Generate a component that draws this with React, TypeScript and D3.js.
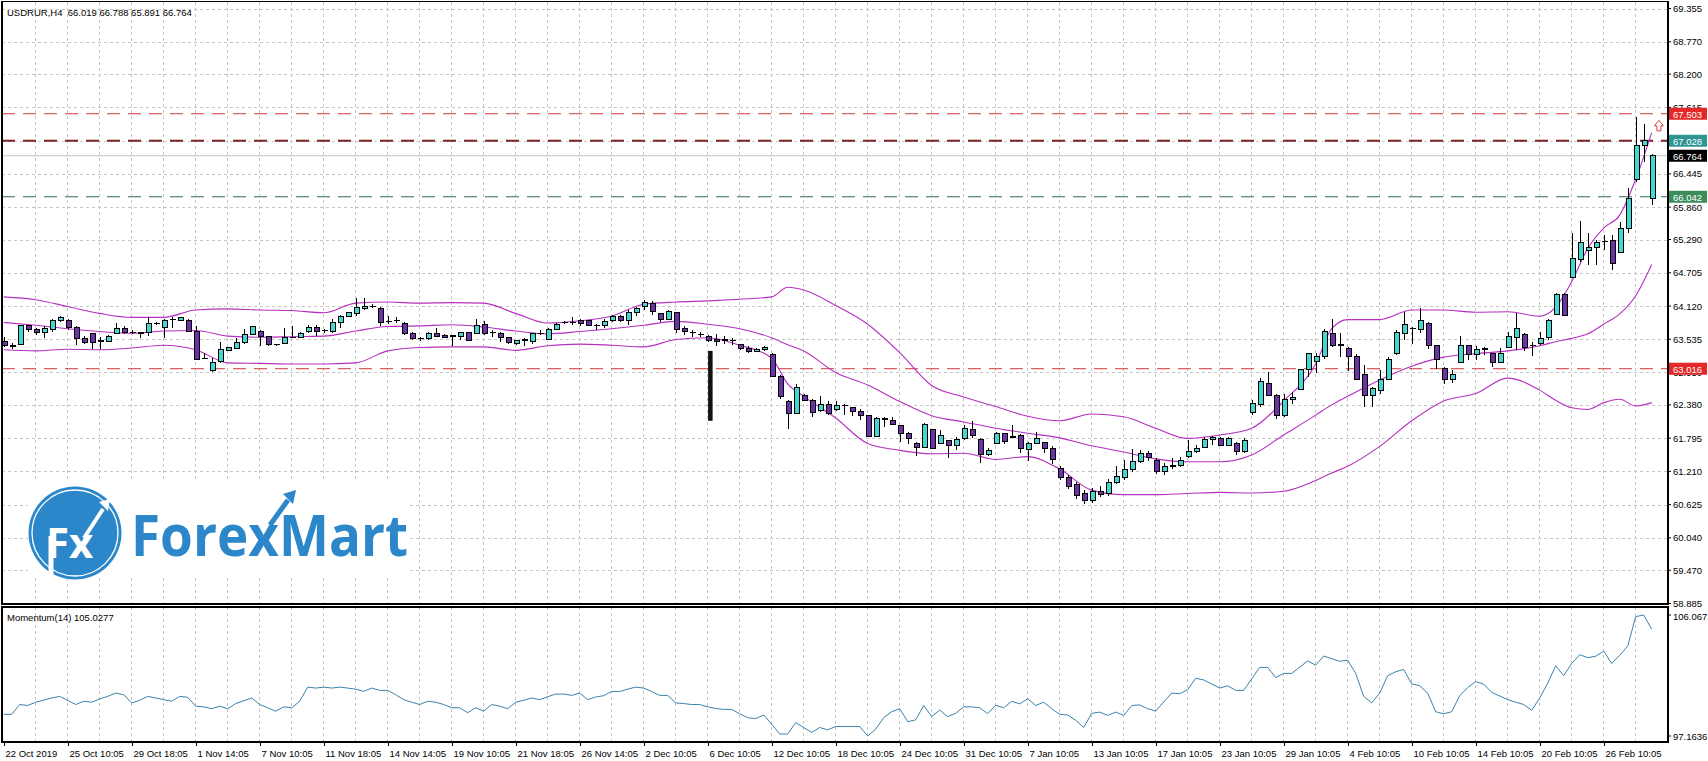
import React from "react";
import * as d3 from "d3";

// ---------- DATA ----------
const symbolTitle = "USDRUR,H4  66.019 66.788 65.891 66.764";
const momentumTitle = "Momentum(14) 105.0277";

const openP = [
  63.49,63.43,63.45,63.77,63.70,63.66,63.70,63.86,63.87,63.74,
  63.55,63.63,63.50,63.50,63.64,63.73,63.652,63.646,63.65,63.815,
  63.74,63.886,63.87,63.87,63.68,63.199,62.98,63.14,63.33,63.38,
  63.48,63.62,63.68,63.58,63.442,63.46,63.570,63.57,63.67,63.74,
  63.686,63.67,63.83,63.94,63.99,64.07,64.110,64.08,63.846,63.869,
  63.81,63.64,63.546,63.54,63.64,63.60,63.593,63.58,63.66,63.64,
  63.79,63.651,63.64,63.57,63.46,63.523,63.50,63.640,63.53,63.70,
  63.828,63.827,63.86,63.86,63.780,63.77,63.86,63.94,63.87,64.00,
  64.12,64.17,63.99,63.89,64.01,63.72,63.652,63.616,63.59,63.53,
  63.523,63.517,63.44,63.38,63.32,63.36,63.27,62.88,62.44,62.23,
  62.54,62.46,62.28,62.38,62.30,62.367,62.34,62.26,62.19,61.82,
  62.133,62.10,62.01,61.87,61.70,61.63,61.94,61.70,61.75,61.66,
  61.79,61.95,61.77,61.50,61.70,61.87,61.81,61.85,61.60,61.70,
  61.72,61.62,61.26,61.10,60.98,60.82,60.70,60.86,60.82,61.02,
  61.10,61.24,61.38,61.53,61.41,61.20,61.32,61.31,61.48,61.56,
  61.63,61.77,61.79,61.67,61.70,61.56,62.24,62.38,62.76,62.55,
  62.20,62.48,62.65,63.01,63.14,63.23,63.64,63.435,63.38,63.24,
  62.92,62.55,62.64,62.83,63.28,63.64,63.722,63.70,63.82,63.42,
  63.02,62.83,63.12,63.42,63.26,63.359,63.28,63.12,63.39,63.57,
  63.62,63.423,63.46,63.57,63.97,64.33,64.62,64.93,65.09,65.15,
  65.253,65.27,65.06,65.49,66.34,66.95,66.019
];
const highP = [
  63.58,63.47,63.78,63.79,63.73,63.76,63.90,63.94,63.89,63.76,
  63.59,63.65,63.57,63.61,63.82,63.76,63.70,63.66,63.93,63.83,
  63.90,63.92,63.93,63.89,63.76,63.29,63.20,63.49,63.40,63.55,
  63.71,63.77,63.70,63.59,63.46,63.73,63.77,63.67,63.79,63.79,
  63.71,63.89,63.96,64.02,64.26,64.26,64.16,64.10,63.94,63.92,
  63.83,63.67,63.57,63.67,63.74,63.62,63.61,63.67,63.67,63.90,
  63.86,63.69,63.66,63.58,63.53,63.55,63.65,63.70,63.73,63.82,
  63.85,63.92,63.89,63.86,63.80,63.89,63.96,63.96,64.05,64.11,
  64.23,64.20,64.00,64.05,64.02,63.76,63.70,63.67,63.61,63.63,
  63.59,63.55,63.46,63.42,63.38,63.42,63.29,62.91,62.47,62.74,
  62.58,62.48,62.53,62.44,62.44,62.39,62.35,62.30,62.20,62.16,
  62.17,62.17,62.03,61.91,61.72,62.06,61.95,61.93,61.76,61.82,
  62.03,62.09,61.79,61.62,61.91,61.89,62.03,61.87,61.72,61.91,
  61.73,61.65,61.30,61.14,61.02,60.88,60.92,60.95,61.08,61.30,
  61.41,61.60,61.58,61.56,61.44,61.35,61.44,61.47,61.76,61.67,
  61.82,61.83,61.82,61.82,61.72,61.79,62.47,62.85,62.95,62.57,
  62.58,62.61,63.02,63.29,63.29,63.71,63.90,63.64,63.39,63.28,
  63.08,62.70,62.99,63.23,63.69,64.02,63.75,64.08,63.83,63.43,
  63.04,62.99,63.59,63.43,63.42,63.40,63.29,63.38,63.67,64.00,
  63.64,63.49,63.67,63.90,64.35,64.35,65.40,65.62,65.40,65.28,
  65.37,65.37,65.60,66.19,67.44,67.32,66.788
];
const lowP = [
  63.40,63.36,63.44,63.66,63.61,63.55,63.67,63.84,63.70,63.43,
  63.45,63.36,63.36,63.49,63.63,63.63,63.63,63.55,63.59,63.79,
  63.55,63.73,63.86,63.66,63.17,63.18,62.96,63.12,63.32,63.36,
  63.46,63.61,63.42,63.42,63.42,63.45,63.55,63.55,63.64,63.59,
  63.65,63.65,63.73,63.92,63.94,64.05,64.08,63.77,63.80,63.82,
  63.61,63.52,63.51,63.52,63.57,63.55,63.42,63.52,63.50,63.63,
  63.61,63.57,63.48,63.45,63.43,63.42,63.45,63.61,63.52,63.69,
  63.80,63.79,63.77,63.77,63.70,63.73,63.84,63.84,63.79,63.94,
  64.05,63.96,63.84,63.89,63.65,63.61,63.58,63.57,63.49,63.42,
  63.46,63.43,63.35,63.29,63.31,63.32,62.87,62.48,61.95,62.22,
  62.44,62.16,62.26,62.20,62.28,62.20,62.19,62.12,61.81,61.81,
  61.99,62.02,61.73,61.69,61.48,61.62,61.60,61.69,61.44,61.59,
  61.77,61.79,61.36,61.48,61.69,61.70,61.79,61.53,61.40,61.69,
  61.54,61.34,61.05,60.90,60.72,60.64,60.66,60.76,60.78,60.98,
  61.06,61.20,61.36,61.40,61.16,61.15,61.26,61.28,61.45,61.54,
  61.62,61.67,61.65,61.65,61.50,61.54,62.20,62.35,62.53,62.14,
  62.16,62.40,62.64,62.87,62.94,63.18,63.39,63.22,62.98,62.82,
  62.35,62.34,62.58,62.81,63.26,63.52,63.46,63.64,63.36,63.02,
  62.75,62.76,63.11,63.17,63.17,63.26,63.04,63.11,63.38,63.35,
  63.33,63.24,63.43,63.52,63.96,63.94,64.61,64.90,64.84,64.84,
  65.11,64.75,65.05,65.40,66.31,66.66,65.891
];
const closeP = [
  63.43,63.42,63.77,63.70,63.65,63.72,63.87,63.92,63.74,63.55,
  63.48,63.48,63.498,63.59,63.73,63.66,63.650,63.644,63.82,63.812,
  63.87,63.884,63.92,63.68,63.18,63.196,63.12,63.35,63.39,63.48,
  63.62,63.76,63.59,63.45,63.440,63.57,63.568,63.64,63.74,63.67,
  63.684,63.83,63.94,64.01,64.09,64.12,64.108,63.83,63.844,63.867,
  63.64,63.54,63.544,63.64,63.59,63.56,63.590,63.66,63.52,63.77,
  63.63,63.649,63.57,63.48,63.52,63.521,63.63,63.638,63.70,63.80,
  63.826,63.825,63.82,63.77,63.778,63.84,63.94,63.86,64.01,64.07,
  64.18,64.02,63.89,64.03,63.70,63.67,63.650,63.614,63.52,63.49,
  63.521,63.515,63.37,63.32,63.36,63.39,62.88,62.53,62.23,62.69,
  62.46,62.24,62.39,62.23,62.37,62.365,62.26,62.19,61.82,62.14,
  62.131,62.04,61.87,61.78,61.63,62.03,61.62,61.85,61.66,61.77,
  61.97,61.85,61.50,61.58,61.87,61.73,61.83,61.62,61.70,61.79,
  61.62,61.42,61.10,60.95,60.78,60.70,60.86,60.80,61.02,61.12,
  61.24,61.38,61.53,61.45,61.20,61.30,61.31,61.40,61.56,61.62,
  61.77,61.80,61.67,61.79,61.56,61.76,62.40,62.80,62.55,62.20,
  62.47,62.51,63.01,63.28,63.24,63.67,63.42,63.432,63.23,62.83,
  62.55,62.67,62.83,63.18,63.65,63.80,63.720,63.86,63.42,63.17,
  62.83,62.92,63.42,63.26,63.36,63.357,63.12,63.29,63.59,63.73,
  63.39,63.421,63.55,63.87,64.33,63.96,64.96,65.24,65.15,65.24,
  65.251,64.87,65.49,66.02,66.95,67.03,66.764
];

const bbIdx = [0,4,8,12,16,20,24,28,32,36,40,44,48,52,56,60,64,68,72,76,80,84,88,92,96,98,100,104,108,112,116,120,124,128,132,136,140,144,148,152,156,160,164,166,168,172,176,180,184,188,192,194,196,198,200,202,204,206];
const bbUpper = [64.28,64.23,64.11,63.99,63.92,63.92,64.05,64.07,64.05,64.04,64.00,64.17,64.19,64.17,64.18,64.17,63.99,63.82,63.86,63.94,64.15,64.19,64.21,64.24,64.28,64.45,64.40,64.13,63.80,63.30,62.72,62.52,62.35,62.18,62.10,62.22,62.17,61.97,61.79,61.85,61.97,62.45,63.10,63.72,63.88,63.88,64.05,64.05,64.01,64.02,63.94,64.10,64.55,65.13,65.49,65.72,66.35,67.17];
const bbMiddle = [63.83,63.78,63.72,63.67,63.64,63.68,63.69,63.59,63.57,63.58,63.59,63.68,63.76,63.77,63.79,63.75,63.68,63.63,63.67,63.72,63.78,63.85,63.80,63.72,63.56,63.44,63.33,62.95,62.73,62.44,62.19,62.08,61.97,61.88,61.80,61.66,61.55,61.43,61.38,61.38,61.50,61.85,62.20,62.38,62.53,62.82,63.06,63.22,63.28,63.33,63.42,63.49,63.55,63.63,63.80,63.98,64.30,64.85];
const bbLower = [63.35,63.33,63.36,63.35,63.38,63.43,63.35,63.12,63.11,63.10,63.10,63.12,63.33,63.39,63.40,63.40,63.34,63.42,63.45,63.43,63.40,63.53,63.56,63.43,63.20,62.75,62.53,62.15,61.70,61.58,61.52,61.53,61.42,61.47,61.25,60.88,60.80,60.80,60.82,60.84,60.83,60.86,61.05,61.18,61.30,61.65,62.10,62.45,62.58,62.85,62.64,62.46,62.33,62.30,62.42,62.48,62.36,62.42];

// Momentum(14)
const momIdx = [0,1,2,3,4,6,7,9,10,11,12,13,14,15,16,17,18,19,20,21,22,23,24,25,26,27,28,29,31,32,33,34,35,36,37,38,39,40,41,42,43,44,45,46,47,48,49,50,51,52,53,54,55,56,57,58,59,60,61,62,63,64,65,66,67,68,69,70,71,72,73,74,75,76,77,78,79,80,81,82,83,84,85,86,87,88,89,90,91,92,93,94,95,96,97,98,99,100,101,102,103,104,105,106,107,108,109,110,111,112,113,114,115,116,117,118,119,120,121,122,123,124,125,126,127,128,129,130,131,132,133,134,135,136,137,138,139,140,141,142,143,144,146,147,148,149,150,152,153,154,155,157,158,159,160,161,163,164,165,167,168,169,170,171,172,173,174,175,176,177,178,179,180,181,182,183,184,185,186,188,189,190,191,192,193,194,195,196,197,198,199,200,201,202,203,204,205,206];
const momVal = [98.76,98.76,99.48,99.41,99.65,99.96,100.08,99.48,99.72,99.65,99.89,100.08,100.32,100.20,99.60,99.79,100.08,99.96,99.84,99.72,100.08,100.01,99.36,99.31,99.17,99.36,99.17,99.55,99.96,99.48,99.24,98.99,99.31,99.24,99.72,100.76,100.69,100.76,100.69,100.76,100.69,100.61,100.45,100.69,100.52,100.52,100.20,99.84,99.65,99.48,99.72,99.65,99.48,99.24,99.24,98.88,99.24,98.99,99.48,99.36,99.17,99.65,99.79,99.96,99.84,100.05,100.25,100.25,100.15,100.32,99.84,100.03,100.13,100.44,100.44,100.61,100.76,100.69,100.44,100.15,100.15,99.60,99.55,99.48,99.48,99.31,99.19,99.12,99.12,98.80,98.51,98.44,98.71,98.03,97.31,97.31,98.15,97.79,97.43,97.79,97.62,97.86,97.86,97.86,97.86,97.1636,97.67,98.51,98.95,99.17,98.22,98.35,99.41,98.59,99.07,98.59,98.83,99.31,99.31,99.24,98.80,99.43,99.24,99.72,99.53,99.91,99.41,99.65,99.17,98.76,98.71,98.32,97.79,98.83,98.92,98.68,98.92,98.68,99.41,99.45,99.17,99.00,100.32,100.28,100.57,101.41,101.29,100.69,100.86,100.52,100.52,102.21,102.21,101.46,101.77,101.77,102.69,102.37,103.05,102.66,102.74,101.77,100.08,99.60,100.32,101.60,101.89,102.06,101.00,100.86,100.32,98.95,98.80,98.95,100.13,100.73,101.17,100.98,100.37,99.84,99.65,99.48,99.05,99.96,101.05,102.33,101.60,102.50,103.15,102.93,103.03,103.41,102.50,103.10,103.77,105.95,106.0671,105.0277];

const priceTicks = ["69.355","68.770","68.200","67.615","67.030","66.445","65.860","65.290","64.705","64.120","63.535","62.950","62.380","61.795","61.210","60.625","60.040","59.470","58.885"];
const momTicks = ["106.0671","97.1636"];
const timeLabels = ["22 Oct 2019","25 Oct 10:05","29 Oct 18:05","1 Nov 14:05","7 Nov 10:05","11 Nov 18:05","14 Nov 14:05","19 Nov 10:05","21 Nov 18:05","26 Nov 14:05","2 Dec 10:05","6 Dec 10:05","12 Dec 10:05","18 Dec 10:05","24 Dec 10:05","31 Dec 10:05","7 Jan 10:05","13 Jan 10:05","17 Jan 10:05","23 Jan 10:05","29 Jan 10:05","4 Feb 10:05","10 Feb 10:05","14 Feb 10:05","20 Feb 10:05","26 Feb 10:05"];
const labelEvery = 8;

// horizontal levels: value, line colour, tag colour, dashed, width
const levelValues = [67.503, 67.028, 66.764, 66.042, 63.016];
const levelLine = ["#d23a3a", "#7a2424", "#c4c4c4", "#2d6b5f", "#cf3434"];
const levelTag = ["#e4282a", "#2f9494", "#000000", "#3d8c5c", "#e4282a"];
const levelDashed = [true, true, false, true, true];
const levelWidth = [1, 2, 1, 1, 1];

// annotations
const vbarAnno = { index: 88.3, top: 63.33, bottom: 62.10 };
const arrowAnno = { index: 206.9, price: 67.29 };

// ---------- LAYOUT ----------
const W = 1708, H = 761;
const LEFT = 2, RIGHT = 1668;
const MAIN_TOP = 1.5, MAIN_BOTTOM = 604;
const SUB_TOP = 607, SUB_BOTTOM = 742;
const FONT = "'Liberation Sans', Arial, sans-serif";
const FS = 9.5;
const BULL = "#44d6cf", BEAR = "#6a33a6", BB = "#b52fc0", MOM = "#3a82aa", GRID = "#c6c6c6";

function Logo() {
  const blue = "#2b87c9";
  return (
    <g>
      <rect x={28} y={480} width={382} height={98} fill="#fff" />
      <circle cx={75} cy={533} r={46.5} fill={blue} />
      <circle cx={75} cy={533} r={43} fill="none" stroke="#fff" strokeWidth={1.3} />
      <rect x={48.5} y={536} width={5} height={42} fill="#fff" />
      <text x={46} y={558} fontFamily="'Open Sans', sans-serif" fontWeight={700} fontSize={42} fill="#fff">Fx</text>
      <line x1={84} y1={538} x2={103} y2={509} stroke="#fff" strokeWidth={4} />
      <path d="M 99 502 L 110 499 L 108 511 Z" fill="#fff" />
      <text x={131} y={556} fontFamily="'Open Sans', sans-serif" fontWeight={700} fontSize={57} fill={blue} textLength={277} lengthAdjust="spacingAndGlyphs">ForexMart</text>
      <line x1={270} y1={525} x2={288} y2={500} stroke={blue} strokeWidth={5} />
      <path d="M 283 494 L 296 490 L 293 504 Z" fill={blue} />
    </g>
  );
}

export default function App() {
  const n = openP.length;
  const x = d3.scaleLinear().domain([0, 206]).range([3.7, 1651.7]);
  const y = d3.scaleLinear().domain([58.885, 69.355]).range([603.5, 8.5]);
  const ym = d3.scaleLinear().domain([97.1636, 106.0671]).range([736, 615]);

  const bbLine = (vals: number[]) =>
    d3.line<number>().x((_, i) => x(bbIdx[i])).y((v) => y(v)).curve(d3.curveMonotoneX)(vals) || "";
  const momPath = d3.line<number>().x((_, i) => x(momIdx[i])).y((v) => ym(v))(momVal) || "";

  const vgrid: number[] = [];
  for (let i = 4; i <= 206; i += 4) vgrid.push(x(i) - 0.5);

  const dashLen = "13,8";

  return (
    <svg width={W} height={H} viewBox={`0 0 ${W} ${H}`} style={{ position: "absolute", left: 0, top: 0, background: "#fff" }} fontFamily={FONT}>
      <defs>
        <clipPath id="mainClip"><rect x={LEFT} y={MAIN_TOP} width={RIGHT - LEFT} height={MAIN_BOTTOM - MAIN_TOP} /></clipPath>
        <clipPath id="subClip"><rect x={LEFT} y={SUB_TOP} width={RIGHT - LEFT} height={SUB_BOTTOM - SUB_TOP} /></clipPath>
      </defs>
      <rect x={0} y={0} width={W} height={H} fill="#fff" />

      {/* grid */}
      <g stroke={GRID} strokeWidth={1} strokeDasharray="3,3" shapeRendering="crispEdges">
        {vgrid.map((gx, i) => (
          <line key={"vm" + i} x1={gx} x2={gx} y1={MAIN_TOP} y2={MAIN_BOTTOM} />
        ))}
        {priceTicks.map((t, i) => (
          <line key={"hm" + i} x1={LEFT} x2={RIGHT} y1={Math.round(y(+t)) + 0.5} y2={Math.round(y(+t)) + 0.5} />
        ))}
        {vgrid.map((gx, i) => (
          <line key={"vs" + i} x1={gx} x2={gx} y1={SUB_TOP} y2={SUB_BOTTOM} />
        ))}
      </g>

      <Logo />

      <g clipPath="url(#mainClip)">
        {levelValues.map((v, i) => (
          <line key={"lv" + i} x1={LEFT} x2={RIGHT} y1={y(v)} y2={y(v)} stroke={levelLine[i]} strokeWidth={levelWidth[i]}
            strokeDasharray={levelDashed[i] ? dashLen : undefined} />
        ))}
        <path d={bbLine(bbUpper)} fill="none" stroke={BB} strokeWidth={1.1} />
        <path d={bbLine(bbMiddle)} fill="none" stroke={BB} strokeWidth={1.1} />
        <path d={bbLine(bbLower)} fill="none" stroke={BB} strokeWidth={1.1} />
        {d3.range(n).map((i) => {
          const o = openP[i], c = closeP[i];
          const hi = Math.max(highP[i], o, c), lo = Math.min(lowP[i], o, c);
          const cx = Math.round(x(i)) + 0.5;
          const doji = Math.abs(o - c) < 0.006;
          const top = y(Math.max(o, c)), bot = y(Math.min(o, c));
          return (
            <g key={"c" + i} shapeRendering="crispEdges">
              <line x1={cx} x2={cx} y1={y(hi)} y2={y(lo)} stroke="#000" strokeWidth={1} />
              {doji ? (
                <line x1={cx - 3} x2={cx + 3} y1={top} y2={top} stroke="#000" strokeWidth={1.5} />
              ) : (
                <rect x={cx - 2.5} y={top} width={5} height={Math.max(1, bot - top)} fill={c > o ? BULL : BEAR} stroke="#000" strokeWidth={1} />
              )}
            </g>
          );
        })}
        <rect x={x(vbarAnno.index) - 2} y={y(vbarAnno.top)} width={4.5} height={y(vbarAnno.bottom) - y(vbarAnno.top)} fill="#111" />
        {(() => {
          const ax = x(arrowAnno.index), ay = y(arrowAnno.price);
          const d = `M ${ax} ${ay - 5.5} L ${ax + 4.5} ${ay} L ${ax + 2} ${ay} L ${ax + 2} ${ay + 5} L ${ax - 2} ${ay + 5} L ${ax - 2} ${ay} L ${ax - 4.5} ${ay} Z`;
          return <path d={d} fill="#fff" stroke="#e03a3a" strokeWidth={1} />;
        })()}
      </g>

      <g clipPath="url(#subClip)">
        <path d={momPath} fill="none" stroke={MOM} strokeWidth={1} />
      </g>

      <g fill="none" stroke="#000" shapeRendering="crispEdges">
        <rect x={LEFT} y={MAIN_TOP} width={RIGHT - LEFT} height={MAIN_BOTTOM - MAIN_TOP} strokeWidth={1.5} />
        <rect x={LEFT} y={SUB_TOP} width={RIGHT - LEFT} height={SUB_BOTTOM - SUB_TOP} strokeWidth={1.5} />
      </g>

      <text x={7} y={16} fontSize={FS} fill="#000" style={{ whiteSpace: "pre" }}>{symbolTitle}</text>
      <text x={7} y={621} fontSize={FS} fill="#000">{momentumTitle}</text>

      <g fontSize={FS} fill="#000">
        {priceTicks.map((t, i) => (
          <g key={"pt" + i}>
            <line x1={RIGHT} x2={RIGHT + 3} y1={y(+t)} y2={y(+t)} stroke="#000" />
            <text x={1673} y={y(+t)} dominantBaseline="central">{t}</text>
          </g>
        ))}
        {momTicks.map((t, i) => (
          <g key={"mt" + i}>
            <line x1={RIGHT} x2={RIGHT + 3} y1={ym(+t)} y2={ym(+t)} stroke="#000" />
            <text x={1673} y={ym(+t) + (i === 0 ? 1 : 0)} dominantBaseline="central">{t}</text>
          </g>
        ))}
      </g>
      {levelValues.map((v, i) => (
        <g key={"tag" + i}>
          <rect x={1669} y={y(v) - 6} width={38} height={12} fill={levelTag[i]} />
          <text x={1673} y={y(v) + 0.5} dominantBaseline="central" fontSize={FS} fill="#fff">{v.toFixed(3)}</text>
        </g>
      ))}

      <g fontSize={FS} fill="#000">
        {timeLabels.map((t, k) => {
          const tx = Math.round(x(k * labelEvery)) + 0.5;
          return (
            <g key={"tl" + k}>
              <line x1={tx} x2={tx} y1={SUB_BOTTOM} y2={SUB_BOTTOM + 4} stroke="#000" />
              <text x={tx + 1} y={753} dominantBaseline="central">{t}</text>
            </g>
          );
        })}
      </g>
    </svg>
  );
}
